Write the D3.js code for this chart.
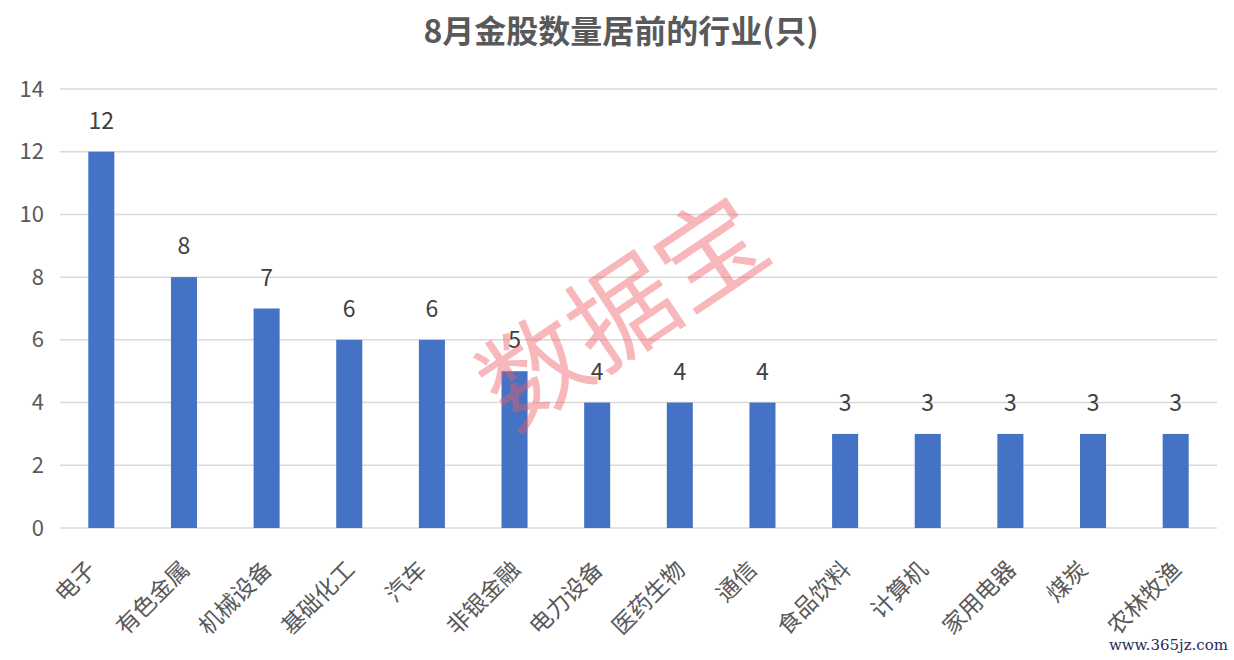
<!DOCTYPE html>
<html><head><meta charset="utf-8">
<script src="https://cdn.jsdelivr.net/npm/d3@7/dist/d3.min.js"></script>
<style>body{margin:0;background:#fff;}svg{display:block;}</style>
</head><body>
<svg id="c" width="1234" height="660"></svg>
<script>
const categories = ["电子","有色金属","机械设备","基础化工","汽车","非银金融","电力设备","医药生物","通信","食品饮料","计算机","家用电器","煤炭","农林牧渔"];
const values = [12,8,7,6,6,5,4,4,4,3,3,3,3,3];
const yTicks = [0,2,4,6,8,10,12,14];
const title = "8月金股数量居前的行业(只)";
const watermark = "数据宝";
const siteMark = "www.365jz.com";

const svg = d3.select("#c");
const font = "'Noto Sans CJK SC','Noto Sans',sans-serif";
const L = 60, R = 1217, T = 89, B = 528;
const x = d3.scaleBand().domain(categories).range([L, R]).paddingInner(0.685).paddingOuter(0.3425);
const y = d3.scaleLinear().domain([0,14]).range([B, T]);

svg.append("text").attr("x", 621).attr("y", 43).attr("text-anchor","middle")
  .attr("font-family", font).attr("font-weight","bold").attr("font-size", 32).attr("fill","#595959").text(title);

// gridlines
svg.append("g").selectAll("line").data(yTicks).join("line")
  .attr("x1", L).attr("x2", R).attr("y1", d=>y(d)).attr("y2", d=>y(d))
  .attr("stroke","#d9d9d9").attr("stroke-width",1.5);

// y axis labels
const ya = svg.append("g").attr("transform",`translate(${L},0)`).call(d3.axisLeft(y).tickValues(yTicks).tickSize(0).tickPadding(16));
ya.select(".domain").remove();
ya.selectAll("text").attr("font-family", font).attr("font-size", 22).attr("fill","#595959");

// bars
svg.append("g").selectAll("rect").data(values).join("rect")
  .attr("x",(d,i)=>x(categories[i])).attr("width", x.bandwidth())
  .attr("y", d=>y(d)).attr("height", d=>B - y(d)).attr("fill","#4472c4");

// data labels
svg.append("g").selectAll("text").data(values).join("text")
  .attr("x",(d,i)=>x(categories[i]) + x.bandwidth()/2).attr("y", d=>y(d) - 23)
  .attr("text-anchor","middle").attr("font-family", font).attr("font-size", 23).attr("fill","#404040").text(d=>d);

// x labels
const xa = svg.append("g").attr("transform",`translate(0,${B})`).call(d3.axisBottom(x).tickSize(0).tickPadding(0));
xa.select(".domain").remove();
xa.selectAll("text").attr("font-family", font).attr("font-size", 23).attr("fill","#595959")
  .attr("text-anchor","end").attr("dy","0")
  .attr("transform", d => `translate(${-15 + 5.5*d.length},43) rotate(-45)`);

// watermark
svg.append("text").attr("transform","translate(628,320) rotate(-34)")
  .attr("text-anchor","middle").attr("dominant-baseline","middle")
  .attr("font-family", font).attr("font-size", 106).attr("fill","rgb(240,90,100)").attr("fill-opacity",0.44)
  .text(watermark);

svg.append("text").attr("x", 1228).attr("y", 650).attr("text-anchor","end")
  .attr("font-family","'DejaVu Serif',serif").attr("font-size", 15).attr("fill","#1f2d5c").text(siteMark);
</script>
</body></html>
